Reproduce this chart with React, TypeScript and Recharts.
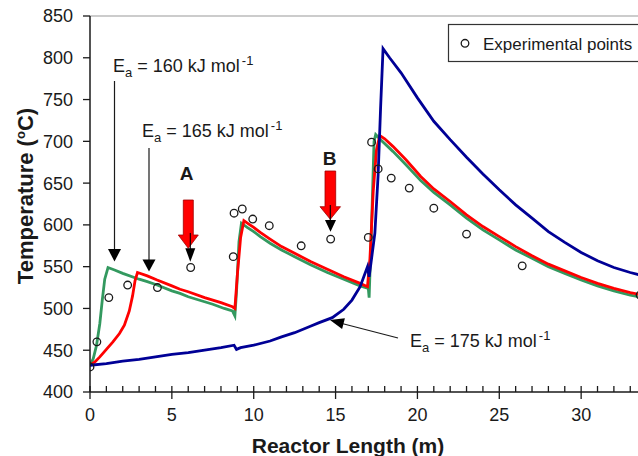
import React from 'react';
import { ComposedChart, Line, Scatter, XAxis, YAxis, ReferenceLine } from 'recharts';

const FONT = '"Liberation Sans", Arial, Helvetica, sans-serif';

// ---- tick labels ----
const xTicks = [0, 1, 2, 3, 4, 5, 6, 7, 8, 9, 10, 11, 12, 13, 14, 15, 16, 17, 18, 19, 20, 21, 22, 23, 24, 25, 26, 27, 28, 29, 30, 31, 32, 33, 34, 35];
const xMajorTicks = [0, 5, 10, 15, 20, 25, 30, 35];
const xLabelTicks = [0, 5, 10, 15, 20, 25, 30];
const yTicks = [400, 450, 500, 550, 600, 650, 700, 750, 800, 850];

// ---- series: [reactor length (m), temperature (C)] ----
const ea160: [number, number][] = [
  [0, 432], [0.2, 440], [0.4, 456], [0.6, 482], [0.75, 510], [0.9, 535], [1.1, 549], [1.5, 546], [2, 542],
  [3, 535], [3.5, 532], [4.1, 528], [5, 521], [5.5, 518], [6, 514], [7, 508], [7.5, 505], [8.2, 500],
  [8.7, 497], [8.85, 491], [8.95, 520], [9.1, 580], [9.25, 602], [9.6, 597], [10, 592], [10.4, 586],
  [11, 578], [11.7, 570], [12.5, 562], [13.5, 552], [14.5, 543], [15.5, 535], [16.5, 527], [17.0, 524],
  [17.05, 513], [17.2, 600], [17.35, 700], [17.45, 708], [17.8, 701], [18.5, 688], [19.3, 672],
  [20.2, 653], [21, 639], [22, 624], [23, 608], [24, 594], [25, 582], [26, 570], [27, 560], [28, 550],
  [29, 542], [30, 534], [31, 527], [32, 521], [33, 516], [34, 512], [35, 508],
];

const ea165: [number, number][] = [
  [0, 432], [0.3, 436], [0.6, 442], [1.0, 451], [1.4, 460], [1.8, 470], [2.1, 480], [2.4, 497], [2.6, 515],
  [2.75, 533], [2.9, 543], [3.5, 539], [4.1, 534], [5, 527], [5.5, 523], [6, 520], [7, 513], [8, 507],
  [8.7, 502], [8.85, 500], [9.0, 540], [9.2, 585], [9.4, 605], [9.7, 601], [10, 597], [10.4, 591],
  [11, 583], [11.7, 574], [12.5, 566], [13.5, 556], [14.5, 547], [15.5, 538], [16.5, 530], [16.95, 526],
  [17.1, 560], [17.3, 640], [17.5, 690], [17.7, 707], [18, 703], [18.5, 694], [19.3, 678], [20.2, 658],
  [21, 643], [22, 628], [23, 612], [24, 598], [25, 586], [26, 574], [27, 563], [28, 553], [29, 545],
  [30, 537], [31, 530], [32, 524], [33, 519], [34, 515], [35, 511],
];

const ea175: [number, number][] = [
  [0, 432], [1, 434], [2, 437], [3, 439], [4, 442], [5, 445], [6, 447], [7, 450], [8, 453], [8.8, 456],
  [8.95, 451], [9.2, 453], [10, 456], [11, 461], [11.7, 466], [12.5, 471], [13.5, 479], [14, 483],
  [14.8, 489], [15.5, 499], [16, 510], [16.5, 526], [16.95, 550], [17.05, 538], [17.2, 560], [17.4, 590],
  [17.6, 660], [17.75, 740], [17.9, 811], [18.3, 800], [19, 782], [20, 752], [21, 724], [22, 702],
  [23, 681], [24, 661], [25, 642], [26, 624], [27, 608], [28, 592], [29, 579], [30, 567], [31, 557],
  [32, 549], [33, 543], [34, 538], [35, 533],
];

const experimental: [number, number][] = [
  [0, 430], [0.42, 460], [1.15, 513], [2.3, 528], [4.12, 525], [6.15, 549], [8.75, 562], [8.8, 614],
  [9.3, 619], [9.94, 607], [10.95, 599], [12.9, 575], [14.7, 583], [17.0, 585], [17.2, 699], [17.6, 667],
  [18.4, 656], [19.5, 644], [21.0, 620], [23.0, 589], [26.4, 551], [33.6, 516],
];

const toRows = (pts: [number, number][]) => pts.map(([x, y]) => ({ x, y }));

const GREEN = '#33995f';
const RED = '#ff0000';
const BLUE = '#000096';
const INK = '#1a1a1a';

const XTick = (props: any) => {
  const { x, y, payload } = props;
  const major = xMajorTicks.includes(payload.value);
  const labelled = xLabelTicks.includes(payload.value);
  return (
    <g>
      <line x1={x} x2={x} y1={y - 6} y2={major ? y + 7 : y} stroke={INK} strokeWidth={1.3} />
      {labelled && (
        <text x={x} y={y + 29} textAnchor="middle" fontSize={18} fontFamily={FONT} fill={INK}>
          {payload.value}
        </text>
      )}
    </g>
  );
};

const Circle = (props: any) => {
  const { cx, cy } = props;
  if (cx == null || cy == null) return null;
  return <circle cx={cx} cy={cy} r={3.8} fill="none" stroke={INK} strokeWidth={1.3} />;
};

const EaLabel = ({ x, y, value }: { x: number; y: number; value: string }) => (
  <text x={x} y={y} fontSize={18} fontFamily={FONT} fill={INK}>
    E
    <tspan fontSize={13} dy={5}>a</tspan>
    <tspan dy={-5}>{` = ${value} kJ mol`}</tspan>
    <tspan fontSize={13} dy={-7} dx={2}>-1</tspan>
  </text>
);

const Overlay = () => (
  <svg
    width={638}
    height={456}
    style={{ position: 'absolute', left: 0, top: 0, pointerEvents: 'none' }}
  >
    {/* axis titles */}
    <text
      x={33}
      y={196}
      transform="rotate(-90 33 196)"
      textAnchor="middle"
      fontSize={22}
      fontWeight="bold"
      fontFamily={FONT}
      fill={INK}
    >
      Temperature (<tspan fontSize={13} dy={-8}>o</tspan>
      <tspan dy={8}>C)</tspan>
    </text>
    <text x={348} y={453} textAnchor="middle" fontSize={21} fontWeight="bold" fontFamily={FONT} fill={INK}>
      Reactor Length (m)
    </text>

    {/* legend */}
    <rect x={448.5} y={24.5} width={220} height={37} fill="#fff" stroke="#333" strokeWidth={1.2} />
    <circle cx={465} cy={43.3} r={3.8} fill="none" stroke={INK} strokeWidth={1.3} />
    <text x={483} y={49.5} fontSize={17} fontFamily={FONT} fill={INK}>
      Experimental points
    </text>

    {/* Ea = 160 */}
    <EaLabel x={113} y={72} value="160" />
    <line x1={114.5} x2={114.5} y1={81} y2={250} stroke={INK} strokeWidth={1.2} />
    <polygon points="108,249 121,249 114.5,261.5" fill="#000" />

    {/* Ea = 165 */}
    <EaLabel x={142} y={137} value="165" />
    <line x1={149} x2={149} y1={148} y2={261} stroke={INK} strokeWidth={1.2} />
    <polygon points="142.5,259.5 155.5,259.5 149,271.5" fill="#000" />

    {/* A */}
    <text x={186.5} y={180} textAnchor="middle" fontSize={19} fontWeight="bold" fontFamily={FONT} fill={INK}>
      A
    </text>
    <polygon
      points="183.3,200 193.3,200 193.3,235 198.3,235 188.3,248.3 178.3,235 183.3,235"
      fill={RED}
      stroke="#a00000"
      strokeWidth={0.8}
    />
    <line x1={190.3} x2={190.3} y1={233} y2={250} stroke="#000" strokeWidth={1.1} />
    <polygon points="185.3,248.3 195.3,248.3 190.3,261.7" fill="#000" />

    {/* B */}
    <text x={329.5} y={165} textAnchor="middle" fontSize={19} fontWeight="bold" fontFamily={FONT} fill={INK}>
      B
    </text>
    <polygon
      points="325,171 335.7,171 335.7,206.7 340.5,206.7 330.3,219.3 320,206.7 325,206.7"
      fill={RED}
      stroke="#a00000"
      strokeWidth={0.8}
    />
    <line x1={330.3} x2={330.3} y1={205} y2={221.7} stroke="#000" strokeWidth={1.1} />
    <polygon points="325,220 336,220 330.5,231.7" fill="#000" />

    {/* Ea = 175 */}
    <EaLabel x={410} y={347} value="175" />
    <line x1={398} y1={338} x2={342} y2={323.5} stroke={INK} strokeWidth={1.2} />
    <polygon points="330,320 344.9,318.3 342.1,328.9" fill="#000" />
  </svg>
);

export default function App() {
  return (
    <div
      style={{
        position: 'fixed',
        left: 0,
        top: 0,
        width: 638,
        height: 456,
        overflow: 'hidden',
        background: '#fff',
      }}
    >
      <ComposedChart width={700} height={456} margin={{ top: 16, right: 37, bottom: 34, left: 0 }}>
        <XAxis
          dataKey="x"
          type="number"
          domain={[0, 35]}
          ticks={xTicks}
          interval={0}
          allowDataOverflow
          height={30}
          tickSize={0}
          tickMargin={0}
          tickLine={false}
          tick={<XTick />}
          axisLine={{ stroke: INK, strokeWidth: 1.5 }}
        />
        <YAxis
          type="number"
          domain={[400, 850]}
          ticks={yTicks}
          interval={0}
          allowDataOverflow
          width={90}
          tickSize={7}
          tickMargin={10}
          tickLine={{ stroke: INK, strokeWidth: 1.3 }}
          axisLine={{ stroke: INK, strokeWidth: 1.5 }}
          tick={{ fontSize: 18, fontFamily: FONT, fill: INK }}
        />
        <ReferenceLine y={850} stroke="#9a9a9a" strokeWidth={1.2} />
        <Line
          data={toRows(ea160)}
          dataKey="y"
          type="linear"
          stroke={GREEN}
          strokeWidth={2.8}
          dot={false}
          isAnimationActive={false}
        />
        <Line
          data={toRows(ea165)}
          dataKey="y"
          type="linear"
          stroke={RED}
          strokeWidth={2.8}
          dot={false}
          isAnimationActive={false}
        />
        <Line
          data={toRows(ea175)}
          dataKey="y"
          type="linear"
          stroke={BLUE}
          strokeWidth={2.8}
          dot={false}
          isAnimationActive={false}
        />
        <Scatter data={toRows(experimental)} dataKey="y" shape={<Circle />} isAnimationActive={false} />
      </ComposedChart>
      <Overlay />
    </div>
  );
}
